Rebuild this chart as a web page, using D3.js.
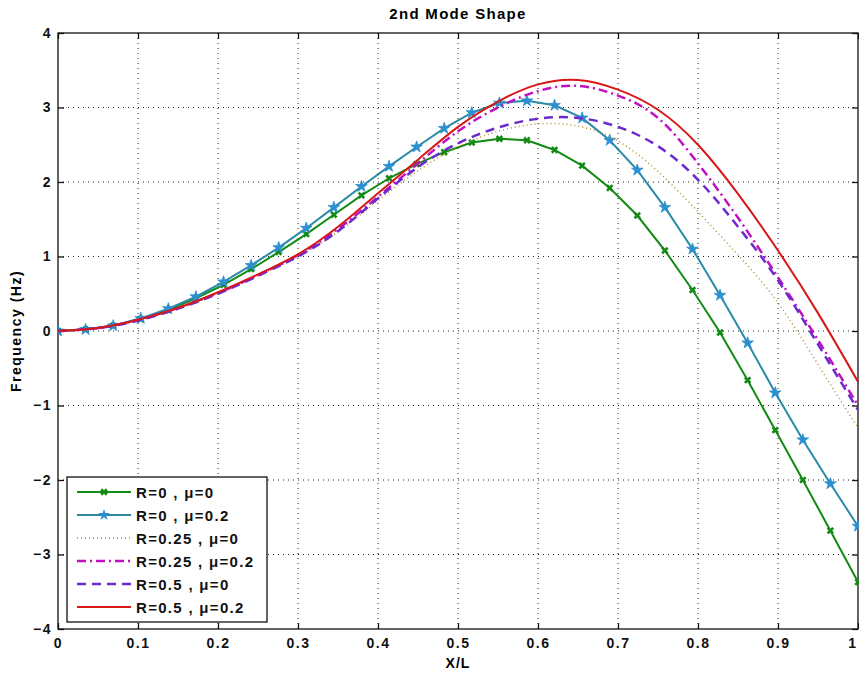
<!DOCTYPE html>
<html>
<head>
<meta charset="utf-8">
<script src="https://cdn.jsdelivr.net/npm/d3@7"></script>
<style>
  body { margin: 0; background: #fff; }
  svg { display: block; font-family: "Liberation Sans", Arial, sans-serif; }
  .tick text { font-size: 14px; font-weight: bold; letter-spacing: 1.5px; fill: #111; }
</style>
</head>
<body>
<div id="chart"></div>
<script>
let width = 859;
let height = 675;

// marker series are sampled at i/29
let xMarked = d3.range(30).map(i => i / 29);
let rZeroMuZero = [0, 0.02, 0.07, 0.16, 0.28, 0.44, 0.62, 0.83, 1.06, 1.30, 1.56, 1.82, 2.05, 2.24, 2.40,
    2.53, 2.58, 2.56, 2.43, 2.22, 1.92, 1.55, 1.08, 0.55, -0.02, -0.66, -1.33, -2.00, -2.68, -3.37];
let rZeroMuTwo = [0, 0.02, 0.07, 0.17, 0.30, 0.46, 0.66, 0.88, 1.12, 1.38, 1.66, 1.94, 2.21, 2.47, 2.72,
    2.93, 3.06, 3.09, 3.03, 2.86, 2.56, 2.16, 1.66, 1.10, 0.48, -0.16, -0.83, -1.46, -2.05, -2.62];

// smooth series, every 0.05
let xSmooth = d3.range(21).map(i => i / 20);
let rQuarterMuZero = [0, 0.04, 0.14, 0.30, 0.50, 0.74, 1.00, 1.33, 1.75, 2.15, 2.47, 2.68, 2.78, 2.75, 2.55,
    2.14, 1.60, 1.02, 0.38, -0.45, -1.30];
let rQuarterMuTwo = [0, 0.04, 0.15, 0.31, 0.51, 0.75, 1.02, 1.37, 1.80, 2.25, 2.68, 3.00, 3.22, 3.29, 3.16,
    2.86, 2.25, 1.52, 0.72, -0.12, -1.00];
let rHalfMuZero = [0, 0.04, 0.14, 0.30, 0.50, 0.74, 1.00, 1.34, 1.78, 2.20, 2.52, 2.73, 2.85, 2.86, 2.74,
    2.48, 2.03, 1.40, 0.68, -0.18, -1.06];
let rHalfMuTwo = [0, 0.04, 0.15, 0.31, 0.52, 0.76, 1.03, 1.40, 1.85, 2.30, 2.74, 3.08, 3.31, 3.37, 3.24,
    2.97, 2.50, 1.84, 1.08, 0.24, -0.68];

let xTicks = [0, 0.1, 0.2, 0.3, 0.4, 0.5, 0.6, 0.7, 0.8, 0.9, 1];
let yTicks = [-4, -3, -2, -1, 0, 1, 2, 3, 4];

let series = [
    {name: "R=0 , \u03bc=0", xs: xMarked, ys: rZeroMuZero, color: "#138a13", width: 2, dash: null, marker: "x", mcolor: "#138a13"},
    {name: "R=0 , \u03bc=0.2", xs: xMarked, ys: rZeroMuTwo, color: "#2a8aa8", width: 2, dash: null, marker: "star", mcolor: "#2b8fd0"},
    {name: "R=0.25 , \u03bc=0", xs: xSmooth, ys: rQuarterMuZero, color: "#b09030", width: 1.5, dash: "1,3", marker: null},
    {name: "R=0.25 , \u03bc=0.2", xs: xSmooth, ys: rQuarterMuTwo, color: "#c010c0", width: 2.5, dash: "9,4,2,4", marker: null},
    {name: "R=0.5 , \u03bc=0", xs: xSmooth, ys: rHalfMuZero, color: "#6a2ad0", width: 2.5, dash: "9,6", marker: null},
    {name: "R=0.5 , \u03bc=0.2", xs: xSmooth, ys: rHalfMuTwo, color: "#d81818", width: 2, dash: null, marker: null}
];

let plotLeft = 58, plotRight = 858, plotTop = 33, plotBottom = 629;

let xScale = d3.scaleLinear().domain([0, 1]).range([plotLeft, plotRight]);
let yScale = d3.scaleLinear().domain([-4, 4]).range([plotBottom, plotTop]);

var svg = d3.select("#chart")
    .append("svg")
    .attr("width", width)
    .attr("height", height);

// dotted grid
svg.append("g")
    .selectAll("line")
    .data(xTicks.slice(1, -1))
    .join("line")
    .attr("x1", d => xScale(d)).attr("x2", d => xScale(d))
    .attr("y1", plotTop).attr("y2", plotBottom)
    .attr("stroke", "#222").attr("stroke-width", 1).attr("stroke-dasharray", "1,4");
svg.append("g")
    .selectAll("line")
    .data(yTicks.slice(1, -1))
    .join("line")
    .attr("y1", d => yScale(d)).attr("y2", d => yScale(d))
    .attr("x1", plotLeft).attr("x2", plotRight)
    .attr("stroke", "#222").attr("stroke-width", 1).attr("stroke-dasharray", "1,4");

// axes, ticks pointing in
svg.append("g")
    .attr("transform", `translate(0,${plotBottom})`)
    .call(d3.axisBottom(xScale).tickValues(xTicks).tickFormat(d => String(d)).tickSize(-6).tickPadding(9))
    .call(g => g.select(".domain").remove())
    .call(g => g.selectAll(".tick text").filter(d => d === 1)
        .attr("text-anchor", "end").attr("letter-spacing", "0px").attr("dx", "-1px"));
svg.append("g")
    .attr("transform", `translate(0,${plotTop})`)
    .call(d3.axisTop(xScale).tickValues(xTicks).tickFormat("").tickSize(-6))
    .call(g => g.select(".domain").remove());
svg.append("g")
    .attr("transform", `translate(${plotLeft},0)`)
    .call(d3.axisLeft(yScale).tickValues(yTicks).tickFormat(d3.format("d")).tickSize(-6).tickPadding(6))
    .call(g => g.select(".domain").remove());
svg.append("g")
    .attr("transform", `translate(${plotRight},0)`)
    .call(d3.axisRight(yScale).tickValues(yTicks).tickFormat("").tickSize(-6))
    .call(g => g.select(".domain").remove());
svg.selectAll(".tick line").attr("stroke", "#111").attr("stroke-width", 1.3);

svg.append("rect")
    .attr("x", plotLeft).attr("y", plotTop)
    .attr("width", plotRight - plotLeft).attr("height", plotBottom - plotTop)
    .attr("fill", "none").attr("stroke", "#111").attr("stroke-width", 1.3);

// curves
svg.append("clipPath").attr("id", "plotclip")
    .append("rect").attr("x", plotLeft).attr("y", plotTop)
    .attr("width", plotRight - plotLeft + 1).attr("height", plotBottom - plotTop);

let plot = svg.append("g").attr("clip-path", "url(#plotclip)");

let xMark = d3.symbol().type(d3.symbolCross).size(34);
let starMark = d3.symbol().type(d3.symbolStar).size(42);

function markerPath(s) {
    return s.marker === "x" ? xMark() : starMark();
}

series.forEach(s => {
    let pts = s.xs.map((x, i) => [x, s.ys[i]]);
    let line = d3.line()
        .x(d => xScale(d[0]))
        .y(d => yScale(d[1]))
        .curve(s.marker ? d3.curveLinear : d3.curveNatural);
    plot.append("path")
        .datum(pts)
        .attr("fill", "none")
        .attr("stroke", s.color)
        .attr("stroke-width", s.width)
        .attr("stroke-dasharray", s.dash)
        .attr("d", line);
    if (s.marker) {
        plot.append("g")
            .selectAll("path")
            .data(pts)
            .join("path")
            .attr("transform", d => `translate(${xScale(d[0])},${yScale(d[1])}) rotate(${s.marker === "x" ? 45 : 0})`)
            .attr("d", markerPath(s))
            .attr("fill", s.mcolor)
            .attr("stroke", s.marker === "x" ? "none" : s.mcolor)
            .attr("stroke-width", 0.8);
    }
});

// legend
let lg = svg.append("g");
lg.append("rect")
    .attr("x", 67).attr("y", 477).attr("width", 200).attr("height", 145)
    .attr("fill", "#fff").attr("stroke", "#111").attr("stroke-width", 1.3);
series.forEach((s, i) => {
    let yy = 492 + i * 23;
    lg.append("line")
        .attr("x1", 77).attr("x2", 131).attr("y1", yy).attr("y2", yy)
        .attr("stroke", s.color).attr("stroke-width", s.width)
        .attr("stroke-dasharray", s.dash);
    if (s.marker) {
        lg.append("path")
            .attr("transform", `translate(104,${yy}) rotate(${s.marker === "x" ? 45 : 0})`)
            .attr("d", markerPath(s))
            .attr("fill", s.mcolor);
    }
    lg.append("text")
        .attr("x", 136).attr("y", yy + 5.5)
        .attr("font-size", 15).attr("font-weight", "bold")
        .attr("letter-spacing", "1.3px")
        .attr("fill", "#111")
        .text(s.name);
});

// title and labels
svg.append("text")
    .attr("x", 458).attr("y", 19)
    .attr("text-anchor", "middle")
    .attr("font-size", 15).attr("font-weight", "bold").attr("letter-spacing", "1.3px")
    .text("2nd Mode Shape");
svg.append("text")
    .attr("x", 458).attr("y", 668)
    .attr("text-anchor", "middle")
    .attr("font-size", 14).attr("font-weight", "bold").attr("letter-spacing", "1px")
    .text("X/L");
svg.append("text")
    .attr("transform", "translate(21,331) rotate(-90)")
    .attr("text-anchor", "middle")
    .attr("font-size", 14).attr("font-weight", "bold").attr("letter-spacing", "1.5px")
    .text("Frequency (Hz)");
</script>
</body>
</html>
